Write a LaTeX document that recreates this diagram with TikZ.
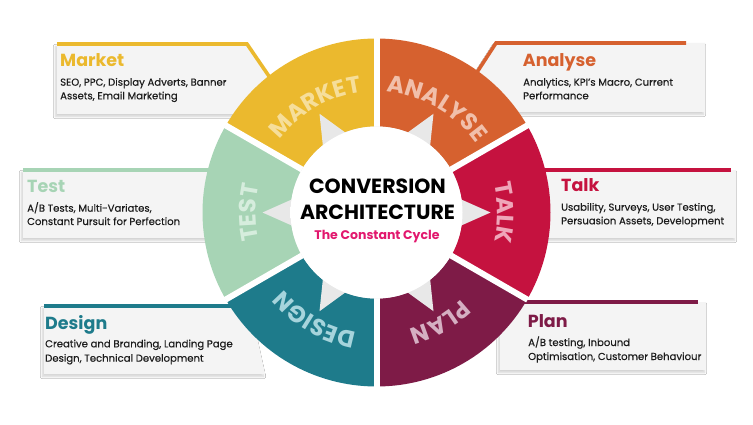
\documentclass[tikz,border=0pt]{standalone}
\usepackage{fontspec}
\setmainfont{Poppins}
\newfontfamily\popls[LetterSpace=6]{Poppins}
\newfontfamily\popmed[FakeBold=0.3]{Poppins}
\usetikzlibrary{decorations.text,shadows.blur}
\definecolor{cMarket}{HTML}{EBB92E}
\definecolor{cAnalyse}{HTML}{D6612F}
\definecolor{cTalk}{HTML}{C5123F}
\definecolor{cPlan}{HTML}{7E1B47}
\definecolor{cDesign}{HTML}{1E7B8B}
\definecolor{cTest}{HTML}{A7D4B5}
\definecolor{tMarket}{HTML}{F6DE9A}
\definecolor{tAnalyse}{HTML}{F1BFAA}
\definecolor{tTalk}{HTML}{EFA6B9}
\definecolor{tPlan}{HTML}{D5AFC2}
\definecolor{tDesign}{HTML}{A6D4DC}
\definecolor{tTest}{HTML}{D6EDDD}
\definecolor{cCycle}{HTML}{E2186E}
\definecolor{panelgray}{HTML}{F4F4F4}
\definecolor{glowgray}{HTML}{E8E8E8}
\definecolor{bodyink}{HTML}{1C1C1C}
\pgfdeclareradialshading{cglow}{\pgfpoint{0bp}{0bp}}{color(0bp)=(white); color(30bp)=(white); color(50bp)=(glowgray)}
\newcommand{\segfont}{\popls\bfseries\fontsize{23.5}{23.5}\selectfont}
\tikzset{
  panelbox/.style={fill=panelgray, blur shadow={shadow xshift=-1.5pt, shadow yshift=-2.5pt, shadow blur steps=8, shadow opacity=18}},
  panelline/.style={line width=3.6pt, line cap=butt, line join=miter},
  titletext/.style={anchor=base west, inner sep=0pt, font=\bfseries\fontsize{17.5}{17.5}\selectfont},
  bodytext/.style={anchor=base west, inner sep=0pt, text=bodyink, font=\popmed\fontsize{10.1}{10.1}\selectfont},
  seglabel/.style={decorate, decoration={text along path, text align=center, text={#1}}},
}
\begin{document}
\begin{tikzpicture}[x=1pt,y=1pt]
\useasboundingbox (0,0) rectangle (753,424);
\fill[white] (0,0) rectangle (753,424);

% panels
\fill[panelbox] (57,380) -- (248,380) -- (290,318) -- (290,310) -- (57,310) -- cycle;
\fill[panelbox] (705,381) -- (496,381) -- (460,325) -- (460,312) -- (705,312) -- cycle;
\fill[panelbox] (23,254) -- (240,254) -- (240,186) -- (23,186) -- cycle;
\fill[panelbox] (520,254) -- (736,254) -- (736,186) -- (520,186) -- cycle;
\fill[panelbox] (44,118) -- (250,118) -- (265,50) -- (44,50) -- cycle;
\fill[panelbox] (500,122) -- (706,122) -- (706,54) -- (500,54) -- cycle;

% panel lines
\coordinate (mk1) at (57,380); \coordinate (mk2) at (247,380); \coordinate (mk3) at (275,339);
\coordinate (an1) at (686,381); \coordinate (an2) at (496,381); \coordinate (an3) at (470,341);
\coordinate (te1) at (23,254); \coordinate (te2) at (230,254);
\coordinate (ta1) at (530,254); \coordinate (ta2) at (731,254);
\coordinate (de1) at (44,118); \coordinate (de2) at (250,118);
\coordinate (pl1) at (505,122); \coordinate (pl2) at (698,122);
\draw[panelline, cMarket] (mk1) -- (mk2) -- (mk3);
\draw[panelline, cAnalyse] (an1) -- (an2) -- (an3);
\draw[panelline, cTest] (te1) -- (te2);
\draw[panelline, cTalk] (ta1) -- (ta2);
\draw[panelline, cDesign] (de1) -- (de2);
\draw[panelline, cPlan] (pl1) -- (pl2);

% wheel
\begin{scope}[shift={(376.5,211.5)}]
  \fill[cMarket]  (0,0) -- (150:174pt) arc[start angle=150, end angle=90,  radius=174pt] -- cycle;
  \fill[cAnalyse] (0,0) -- (90:174pt)  arc[start angle=90,  end angle=30,  radius=174pt] -- cycle;
  \fill[cTalk]    (0,0) -- (30:174pt)  arc[start angle=30,  end angle=-30, radius=174pt] -- cycle;
  \fill[cPlan]    (0,0) -- (-30:174pt) arc[start angle=-30, end angle=-90, radius=174pt] -- cycle;
  \fill[cDesign]  (0,0) -- (270:174pt) arc[start angle=270, end angle=210, radius=174pt] -- cycle;
  \fill[cTest]    (0,0) -- (210:174pt) arc[start angle=210, end angle=150, radius=174pt] -- cycle;
  \foreach \a in {30,90,150,210,270,330}
    \draw[white, line width=6pt] (0,0) -- (\a:174.5pt);
  % center star
  \fill[glowgray] (0,0) circle[radius=86pt];
  \foreach \a in {0,60,120,180,240,300}
    \fill[glowgray] (\a+9.5:84pt) -- (\a:114pt) -- (\a-9.5:84pt) -- cycle;
  \shade[shading=cglow] (0,0) circle[radius=86pt];
  % segment labels (clockwise, tops outward)
  \path[seglabel={|\segfont\color{tMarket}|MARKET}]  (165:121pt) arc[start angle=165, end angle=75,  radius=121pt];
  \path[seglabel={|\segfont\color{tAnalyse}|ANALYSE}] (105:121pt) arc[start angle=105, end angle=15,  radius=121pt];
  \path[seglabel={|\segfont\color{tTalk}|TALK}]      (45:121pt)  arc[start angle=45,  end angle=-45, radius=121pt];
  \path[seglabel={|\segfont\color{tPlan}|PLAN}]      (-15:121pt) arc[start angle=-15, end angle=-105,radius=121pt];
  \path[seglabel={|\segfont\color{tDesign}|DESIGN}]  (285:121pt) arc[start angle=285, end angle=195, radius=121pt];
  \path[seglabel={|\segfont\color{tTest}|TEST}]      (225:121pt) arc[start angle=225, end angle=135, radius=121pt];
\end{scope}

% centre text
\node[anchor=base, inner sep=0pt, font=\bfseries\fontsize{20.5}{20.5}\selectfont] (conv) at (377.5,230.7) {CONVERSION};
\node[anchor=base, inner sep=0pt, font=\bfseries\fontsize{20.5}{20.5}\selectfont] (arch) at (377.5,205) {ARCHITECTURE};
\node[anchor=base, inner sep=0pt, text=cCycle, font=\bfseries\fontsize{12.5}{12.5}\selectfont] (cyc) at (377,185) {The Constant Cycle};

% panel texts
\node[titletext, text=cMarket] (mkt) at (60,357.3) {Market};
\node[bodytext] (mkb1) at (60,338.3) {SEO, PPC, Display Adverts, Banner};
\node[bodytext] (mkb2) at (60,324.7) {Assets, Email Marketing};

\node[titletext, text=cAnalyse] (ant) at (522.7,357.3) {Analyse};
\node[bodytext] (anb1) at (523,338.3) {Analytics, KPI’s Macro, Current};
\node[bodytext] (anb2) at (523,324.7) {Performance};

\node[titletext, text=cTest] (tet) at (27,231.7) {Test};
\node[bodytext] (teb1) at (27,212.3) {A/B Tests, Multi-Variates,};
\node[bodytext] (teb2) at (27,199) {Constant Pursuit for Perfection};

\node[titletext, text=cTalk] (tat) at (561,232.3) {Talk};
\node[bodytext] (tab1) at (561,213.3) {Usability, Surveys, User Testing,};
\node[bodytext] (tab2) at (561,199.7) {Persuasion Assets, Development};

\node[titletext, text=cDesign] (det) at (45,95) {Design};
\node[bodytext] (deb1) at (45,76.7) {Creative and Branding, Landing Page};
\node[bodytext] (deb2) at (45,62.3) {Design, Technical Development};

\node[titletext, text=cPlan] (plt) at (527.7,96.3) {Plan};
\node[bodytext] (plb1) at (528,78) {A/B testing, Inbound};
\node[bodytext] (plb2) at (528,64) {Optimisation, Customer Behaviour};
\end{tikzpicture}
\end{document}
